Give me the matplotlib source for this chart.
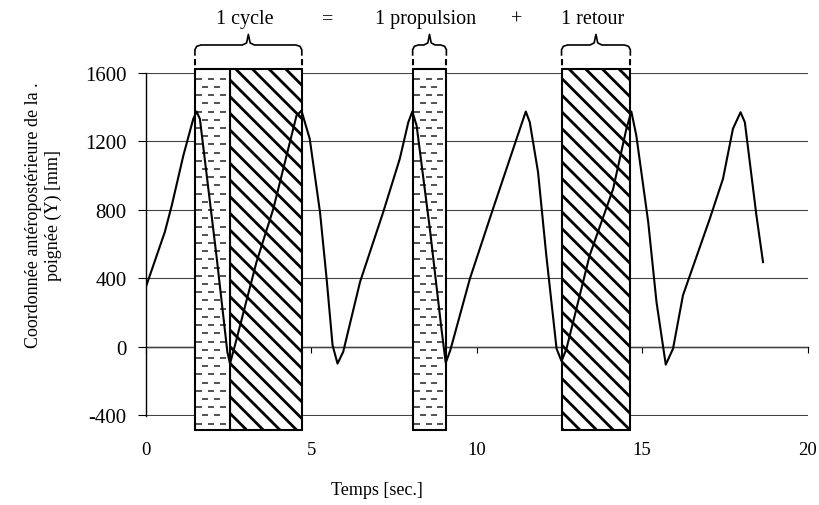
import numpy as np
import matplotlib
matplotlib.use("Agg")
import matplotlib.pyplot as plt
from matplotlib.patches import Rectangle

# handle position trace
t = [0.00, 0.57, 0.78, 1.13, 1.43, 1.53, 1.63, 2.13, 2.46, 2.54, 2.69, 3.34,
     3.85, 4.35, 4.55, 4.70, 4.95, 5.26, 5.46, 5.64, 5.79, 5.96, 6.47, 7.17,
     7.67, 7.93, 8.05, 8.18, 8.58, 8.93, 9.06, 9.20, 9.79, 10.49, 11.20, 11.48,
     11.60, 11.85, 12.10, 12.41, 12.56, 12.71, 13.41, 14.12, 14.52, 14.67,
     14.82, 15.18, 15.43, 15.71, 15.93, 16.23, 16.44, 17.04, 17.44, 17.74,
     17.97, 18.10, 18.45, 18.65]
y = [350, 670, 825, 1117, 1331, 1374, 1331, 533, -31, -99, 8, 494,
     806, 1195, 1350, 1379, 1214, 786, 397, 8, -99, -31, 378, 786,
     1097, 1312, 1374, 1292, 689, 105, -95, -20, 397, 806, 1214, 1374,
     1312, 1020, 533, -12, -85, -12, 533, 922, 1273, 1374,
     1234, 728, 261, -105, -12, 300, 416, 747, 981, 1273,
     1370, 1312, 767, 494]

# phase intervals (s)
propulsion_spans = [(1.48, 2.54), (8.06, 9.08)]
retour_spans = [(2.54, 4.71), (12.56, 14.64)]
brace_spans = [(1.48, 4.71), (8.06, 9.08), (12.56, 14.64)]

top_words = ["1 cycle", "=", "1 propulsion", "+", "1 retour"]
top_word_x = [3.0, 5.5, 8.45, 11.2, 13.5]

yticks = [-400, 0, 400, 800, 1200, 1600]
xticks = [0, 5, 10, 15, 20]

plt.rcParams["font.family"] = ["Liberation Serif", "DejaVu Serif"]
plt.rcParams["hatch.linewidth"] = 2.0
plt.rcParams["hatch.color"] = "#555555"

fig = plt.figure(figsize=(8.2, 5.06), dpi=100)
ax = fig.add_axes([0.178, 0.176, 0.807, 0.678])
ax.set_xlim(0, 20)
ax.set_ylim(-405, 1600)

rect_lo, rect_hi = -490, 1620

for a, b in retour_spans:
    ax.add_patch(Rectangle((a, rect_lo), b - a, rect_hi - rect_lo, facecolor="white",
                           hatch="\\\\", edgecolor="black", linewidth=1.5,
                           clip_on=False, zorder=2))
for a, b in propulsion_spans:
    ax.add_patch(Rectangle((a, rect_lo), b - a, rect_hi - rect_lo, facecolor="white",
                           edgecolor="black", linewidth=1.5, clip_on=False, zorder=2))
    # small dash fill
    rows = np.arange(rect_lo + 40, rect_hi - 20, 48)
    for i, r in enumerate(rows):
        off = 0.12 if i % 2 == 0 else 0.30
        xs = np.arange(a + off, b - 0.08, 0.36)
        ax.plot(xs, np.full_like(xs, r), linestyle="none", marker="_",
                markersize=4, markeredgewidth=1.2, color="#333333",
                clip_on=False, zorder=2.5)

ax.grid(axis="y", color="#444444", linewidth=0.8)
ax.set_axisbelow(True)

ax.plot(t, y, color="black", linewidth=1.5, zorder=3)

# braces above the phases
for a, b in brace_spans:
    m = (a + b) / 2
    r = min(0.18, (b - a) / 6)
    xs = [a, a, a + r * 0.3, a + r, m - r, m - r * 0.3, m, m + r * 0.3, m + r,
          b - r, b - r * 0.3, b, b]
    ys = [1705, 1735, 1755, 1763, 1763, 1775, 1825, 1775, 1763,
          1763, 1755, 1735, 1705]
    ax.plot(xs, ys, color="black", linewidth=1.2, clip_on=False)
    for xv in (a, b):
        ax.plot([xv, xv], [1680, rect_hi], color="black", linewidth=1.5,
                linestyle=(0, (3, 2)), clip_on=False)

for word, xv in zip(top_words, top_word_x):
    ax.text(xv, 1915, word, ha="center", va="center", fontsize=14.5)

for s in ["top", "right", "bottom"]:
    ax.spines[s].set_visible(False)
ax.spines["left"].set_linewidth(1.0)

ax.set_yticks(yticks)
ax.set_yticklabels([str(v) for v in yticks])
ax.tick_params(axis="y", direction="out", length=6, labelsize=15, pad=8)
ax.set_xticks(xticks)
ax.tick_params(axis="x", length=0, labelsize=13.5, pad=18)

# x axis line crossing at y = 0
sec = ax.secondary_xaxis(0.2)
sec.set_xticks(xticks)
sec.set_xticklabels([])
sec.tick_params(direction="out", length=4)
sec.spines["bottom"].set_linewidth(1.0)

fig.text(0.053, 0.575, "Coordonnée antéropostérieure de la .\npoignée (Y) [mm]",
         rotation=90, ha="center", va="center", fontsize=13, linespacing=1.25)
fig.text(0.46, 0.03, "Temps [sec.]", ha="center", va="center", fontsize=13)

fig.savefig("out.png", dpi=100)
